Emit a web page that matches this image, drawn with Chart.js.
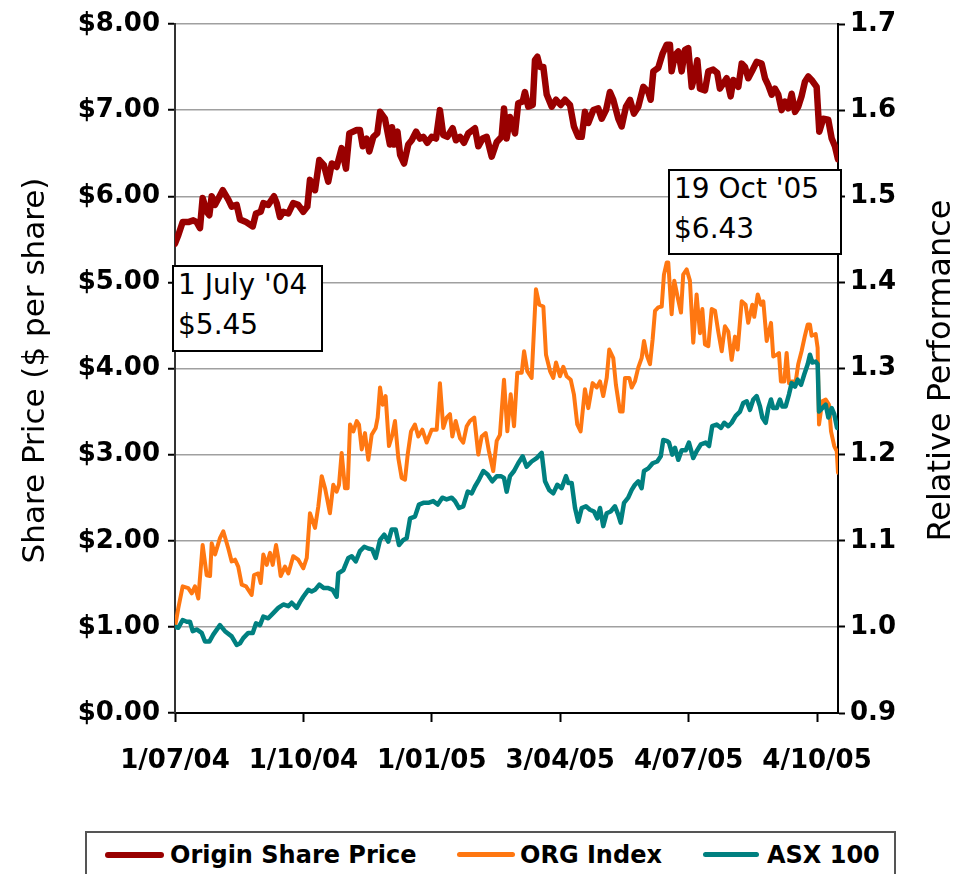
<!DOCTYPE html>
<html>
<head>
<meta charset="utf-8">
<script src="https://cdn.jsdelivr.net/npm/chart.js@4.4.0/dist/chart.umd.min.js"></script>
<style>
  body { margin: 0; background: #fff; }
  #wrap { position: relative; width: 967px; height: 874px; overflow: hidden; font-family: "DejaVu Sans", sans-serif; color: #000; }
  .note { position: absolute; background: #fff; border: 2px solid #000; box-sizing: border-box; font-size: 28px; line-height: 40px; padding-left: 4px; }
  .note div { position: relative; top: -2px; white-space: nowrap; }
  #legend { position: absolute; left: 85px; top: 831px; width: 811px; height: 60px; border: 2px solid #555; box-sizing: border-box; background: #fff; }
  .item { position: absolute; top: 8px; font-weight: bold; font-size: 24px; line-height: 28px; white-space: nowrap; }
  .sw { position: absolute; top: 19px; height: 6px; border-radius: 3px; }
</style>
</head>
<body>
<div id="wrap">
  <canvas id="chart" width="967" height="874"></canvas>
  <div class="note" style="left:172px; top:265px; width:151px; height:87px;"><div>1 July '04</div><div>$5.45</div></div>
  <div class="note" style="left:668px; top:169px; width:174px; height:86px;"><div>19 Oct '05</div><div>$6.43</div></div>
  <div id="legend">
    <span class="sw" style="left:18px; width:59px; background:#990000;"></span>
    <span class="item" style="left:83px;">Origin Share Price</span>
    <span class="sw" style="left:370px; width:58px; height:5px; background:#FF7711;"></span>
    <span class="item" style="left:433px;">ORG Index</span>
    <span class="sw" style="left:616px; width:56px; height:5px; background:#008080;"></span>
    <span class="item" style="left:680px;">ASX 100</span>
  </div>
</div>
<script>
// x values are days counted from 1 July 2004
var xTickDays = [0, 92, 184, 276, 368, 460];
var xTickLabels = ["1/07/04", "1/10/04", "1/01/05", "3/04/05", "4/07/05", "4/10/05"];

// Origin share price, $ per share (left axis)
var priceDays = [
  0, 2.4, 5.5, 9.5, 13.1, 15.5, 17.9, 19.8, 22.7, 24.6,
  26.3, 28.7, 34.2, 38.2, 40.6, 44.2, 46.6, 50.9, 55.7, 58.0,
  61.4, 63.3, 66.8, 70.9, 72.9, 75.2, 77.6, 81.2, 84.7, 88.3,
  91.9, 94.8, 96.7, 100.3, 103.4, 106.7, 109.8, 112.3, 115.8, 119.4,
  122.5, 124.9, 130.2, 132.5, 134.5, 137.3, 139.2, 142.1, 144.9, 146.9,
  150.4, 154.0, 155.5, 157.0, 159.4, 161.3, 164.1, 167.1, 169.6, 172.7,
  175.5, 177.9, 180.7, 183.9, 187.0, 189.8, 192.2, 195.1, 198.9, 201.3,
  204.2, 207.0, 210.1, 214.9, 217.3, 220.4, 223.3, 226.9, 230.5, 234.0,
  235.7, 237.6, 240.0, 243.6, 245.9, 249.1, 250.7, 253.1, 256.3, 257.9,
  259.6, 261.5, 263.9, 266.3, 269.9, 273.0, 276.3, 279.4, 283.0, 285.8,
  288.9, 291.4, 293.7, 296.1, 299.7, 303.2, 305.7, 308.8, 311.6, 314.0,
  317.6, 320.0, 323.1, 326.0, 328.8, 331.9, 335.5, 339.1, 340.8, 342.7,
  346.2, 349.4, 352.3, 354.6, 355.8, 358.2, 360.6, 363.0, 365.4, 367.7,
  370.2, 372.5, 374.2, 376.1, 379.7, 382.1, 385.6, 388.5, 390.4, 392.8,
  395.2, 398.1, 400.0, 403.6, 406.0, 408.4, 410.7, 413.9, 416.7, 420.3,
  422.7, 425.0, 427.5, 429.8, 432.2, 434.6, 437.0, 439.4, 441.8, 444.2,
  446.5, 448.9, 451.3, 453.7, 456.1, 459.7, 461.6, 464.4, 468.0, 470.5,
  472.8, 475
];
var priceValues = [
  5.45, 5.55, 5.70, 5.70, 5.72, 5.70, 5.63, 5.98, 5.82, 5.78,
  6.00, 5.90, 6.07, 5.96, 5.88, 5.90, 5.73, 5.70, 5.65, 5.80,
  5.82, 5.92, 5.90, 6.00, 5.92, 5.76, 5.82, 5.80, 5.92, 5.90,
  5.82, 5.88, 6.19, 6.07, 6.42, 6.36, 6.17, 6.38, 6.34, 6.56,
  6.32, 6.73, 6.77, 6.77, 6.58, 6.67, 6.52, 6.69, 6.73, 6.98,
  6.90, 6.60, 6.80, 6.60, 6.75, 6.48, 6.38, 6.60, 6.65, 6.75,
  6.67, 6.69, 6.62, 6.69, 6.67, 7.00, 6.71, 6.69, 6.79, 6.65,
  6.69, 6.62, 6.73, 6.79, 6.58, 6.67, 6.69, 6.46, 6.63, 6.69,
  7.02, 6.67, 6.92, 6.73, 7.08, 7.10, 7.21, 7.04, 7.06, 7.58,
  7.62, 7.50, 7.50, 7.18, 7.04, 7.12, 7.06, 7.12, 7.06, 6.81,
  6.69, 6.69, 6.98, 6.85, 7.00, 7.02, 6.90, 7.00, 7.21, 7.12,
  6.90, 6.81, 7.04, 7.12, 6.96, 7.04, 7.27, 7.21, 7.12, 7.45,
  7.49, 7.66, 7.76, 7.76, 7.45, 7.64, 7.68, 7.45, 7.70, 7.72,
  7.27, 7.41, 7.58, 7.25, 7.23, 7.45, 7.47, 7.43, 7.25, 7.31,
  7.37, 7.16, 7.35, 7.27, 7.54, 7.50, 7.37, 7.47, 7.56, 7.54,
  7.37, 7.29, 7.18, 7.25, 7.18, 7.00, 7.10, 7.02, 7.19, 6.98,
  7.04, 7.16, 7.33, 7.39, 7.35, 7.27, 6.75, 6.90, 6.89, 6.67,
  6.58, 6.43
];

// ORG index, relative performance (right axis)
var orgDays = [
  0, 2.4, 5.5, 9.5, 12.0, 14.3, 16.7, 19.8, 22.7, 25.1,
  26.3, 28.7, 32.2, 34.6, 38.2, 40.6, 43.0, 45.3, 47.8, 50.9,
  54.9, 56.6, 59.7, 61.4, 63.3, 65.7, 68.1, 70.0, 72.4, 74.0,
  75.7, 78.8, 81.2, 84.7, 88.3, 91.9, 94.4, 96.7, 100.3, 102.7,
  105.1, 107.5, 111.0, 113.4, 115.8, 117.5, 119.4, 121.8, 123.7, 125.4,
  127.8, 130.2, 131.8, 133.8, 136.1, 138.5, 140.9, 143.8, 145.2, 146.9,
  148.8, 150.9, 153.3, 155.7, 157.6, 160.0, 162.4, 164.8, 166.7, 169.1,
  171.9, 174.3, 177.2, 180.3, 183.9, 187.5, 189.8, 192.2, 194.6, 197.0,
  198.7, 201.1, 204.2, 206.5, 209.0, 211.3, 214.4, 217.3, 219.7, 222.6,
  224.9, 228.0, 230.5, 232.8, 235.7, 238.1, 240.5, 242.9, 245.2, 248.4,
  250.1, 252.4, 255.5, 258.6, 261.0, 263.9, 265.8, 268.7, 271.0, 273.0,
  275.8, 278.2, 280.6, 283.5, 285.8, 288.2, 290.6, 293.7, 296.1, 299.2,
  302.1, 304.5, 306.8, 309.3, 311.1, 314.0, 315.9, 318.8, 320.7, 322.4,
  325.5, 327.2, 329.5, 331.9, 334.3, 336.0, 337.9, 340.3, 342.2, 343.9,
  346.2, 348.7, 350.3, 352.3, 353.4, 355.8, 357.7, 360.1, 362.5, 364.1,
  366.6, 368.9, 371.3, 373.7, 376.1, 377.8, 379.7, 382.1, 384.5, 386.9,
  389.2, 391.7, 394.0, 396.4, 398.8, 401.2, 403.1, 406.0, 408.8, 410.7,
  413.6, 415.0, 417.5, 419.8, 421.5, 423.9, 427.0, 428.6, 431.1, 432.7,
  434.1, 436.5, 438.2, 439.9, 441.8, 444.7, 446.5, 448.9, 451.3, 453.3,
  454.9, 456.1, 459.0, 460.4, 461.4, 463.7, 466.2, 468.5, 470.0, 472.3,
  474.1, 475
];
var orgValues = [
  1.000, 1.022, 1.047, 1.045, 1.039, 1.047, 1.033, 1.095, 1.060, 1.059,
  1.097, 1.084, 1.103, 1.111, 1.091, 1.076, 1.078, 1.070, 1.049, 1.047,
  1.037, 1.060, 1.062, 1.051, 1.084, 1.072, 1.086, 1.072, 1.095, 1.080,
  1.059, 1.070, 1.062, 1.082, 1.078, 1.068, 1.080, 1.132, 1.115, 1.140,
  1.175, 1.161, 1.132, 1.165, 1.157, 1.165, 1.202, 1.161, 1.161, 1.235,
  1.227, 1.239, 1.235, 1.206, 1.225, 1.194, 1.223, 1.231, 1.243, 1.278,
  1.258, 1.268, 1.210, 1.223, 1.239, 1.196, 1.173, 1.171, 1.200, 1.227,
  1.235, 1.221, 1.229, 1.214, 1.229, 1.229, 1.283, 1.231, 1.243, 1.247,
  1.221, 1.239, 1.219, 1.214, 1.233, 1.239, 1.243, 1.200, 1.221, 1.225,
  1.204, 1.181, 1.216, 1.223, 1.287, 1.227, 1.270, 1.233, 1.295, 1.295,
  1.320, 1.297, 1.289, 1.392, 1.374, 1.372, 1.316, 1.297, 1.289, 1.307,
  1.291, 1.302, 1.291, 1.287, 1.270, 1.235, 1.227, 1.276, 1.254, 1.283,
  1.278, 1.285, 1.268, 1.289, 1.322, 1.312, 1.281, 1.250, 1.250, 1.289,
  1.289, 1.278, 1.285, 1.301, 1.312, 1.332, 1.316, 1.305, 1.334, 1.367,
  1.371, 1.372, 1.409, 1.423, 1.423, 1.363, 1.402, 1.383, 1.365, 1.409,
  1.415, 1.402, 1.330, 1.386, 1.341, 1.369, 1.328, 1.326, 1.369, 1.367,
  1.343, 1.320, 1.349, 1.343, 1.310, 1.337, 1.322, 1.378, 1.374, 1.353,
  1.374, 1.360, 1.386, 1.374, 1.378, 1.332, 1.353, 1.314, 1.316, 1.318,
  1.285, 1.285, 1.318, 1.283, 1.285, 1.285, 1.305, 1.320, 1.338, 1.351,
  1.351, 1.338, 1.340, 1.324, 1.235, 1.262, 1.264, 1.258, 1.227, 1.210,
  1.204, 1.179
];

// ASX 100, relative performance (right axis)
var asxDays = [
  0, 2.4, 5.5, 8.4, 10.7, 12.7, 15.5, 19.1, 21.5, 24.6,
  27.4, 32.2, 35.8, 40.6, 44.2, 46.6, 48.9, 52.5, 55.7, 58.0,
  60.9, 63.3, 66.8, 70.4, 74.0, 77.6, 81.2, 83.6, 87.2, 89.6,
  91.9, 95.5, 97.9, 100.3, 103.4, 106.7, 109.8, 113.0, 115.8, 117.0,
  120.6, 124.2, 126.6, 129.5, 132.5, 135.6, 138.5, 141.3, 143.8, 146.9,
  149.9, 152.8, 155.2, 158.1, 160.5, 163.6, 166.0, 168.4, 171.9, 174.8,
  177.9, 181.5, 185.0, 188.2, 191.5, 194.6, 198.2, 200.6, 203.5, 206.5,
  209.7, 212.6, 214.9, 217.8, 220.9, 224.0, 227.3, 230.5, 233.5, 235.7,
  237.6, 240.0, 242.9, 245.9, 249.1, 251.9, 255.5, 259.1, 262.7, 265.1,
  268.1, 271.0, 273.9, 277.0, 280.1, 281.8, 284.2, 286.6, 288.9, 291.4,
  294.4, 297.3, 300.2, 302.5, 304.5, 306.8, 309.3, 312.1, 315.2, 317.6,
  319.3, 321.7, 324.7, 327.2, 329.5, 331.9, 334.3, 336.0, 339.1, 342.2,
  345.5, 348.0, 349.8, 352.3, 353.9, 356.3, 358.2, 360.6, 363.0, 365.9,
  368.2, 371.3, 373.7, 376.8, 380.2, 382.6, 384.9, 388.1, 391.2, 393.5,
  396.4, 398.8, 401.7, 404.8, 407.1, 409.6, 411.9, 414.3, 416.7, 419.1,
  420.8, 423.2, 425.1, 427.0, 428.6, 431.1, 433.4, 435.1, 437.5, 439.9,
  441.8, 444.2, 446.1, 448.5, 450.8, 453.3, 454.9, 456.6, 459.0, 460.4,
  461.4, 463.7, 466.2, 468.1, 470.5, 472.3, 474.3
];
var asxValues = [
  1.000, 0.999, 1.008, 1.006, 1.006, 0.995, 0.997, 0.993, 0.983, 0.983,
  0.991, 1.002, 0.995, 0.989, 0.979, 0.981, 0.987, 0.993, 0.993, 1.004,
  1.002, 1.012, 1.010, 1.016, 1.022, 1.026, 1.024, 1.028, 1.022, 1.029,
  1.035, 1.043, 1.041, 1.043, 1.049, 1.045, 1.045, 1.043, 1.035, 1.062,
  1.066, 1.080, 1.082, 1.076, 1.088, 1.093, 1.091, 1.090, 1.080, 1.101,
  1.107, 1.099, 1.113, 1.113, 1.095, 1.101, 1.103, 1.126, 1.128, 1.142,
  1.144, 1.144, 1.146, 1.142, 1.150, 1.148, 1.150, 1.146, 1.138, 1.140,
  1.157, 1.155, 1.163, 1.171, 1.181, 1.177, 1.169, 1.175, 1.175, 1.173,
  1.157, 1.175, 1.181, 1.190, 1.198, 1.186, 1.192, 1.196, 1.202, 1.169,
  1.159, 1.155, 1.165, 1.161, 1.175, 1.167, 1.167, 1.138, 1.122, 1.138,
  1.140, 1.136, 1.134, 1.126, 1.138, 1.117, 1.132, 1.134, 1.140, 1.130,
  1.121, 1.144, 1.150, 1.159, 1.165, 1.169, 1.161, 1.181, 1.184, 1.190,
  1.192, 1.198, 1.217, 1.216, 1.214, 1.200, 1.208, 1.194, 1.205, 1.205,
  1.214, 1.196, 1.204, 1.212, 1.214, 1.210, 1.233, 1.235, 1.231, 1.237,
  1.233, 1.237, 1.245, 1.250, 1.260, 1.262, 1.252, 1.264, 1.268, 1.256,
  1.243, 1.237, 1.254, 1.264, 1.254, 1.254, 1.264, 1.256, 1.256, 1.270,
  1.283, 1.279, 1.287, 1.281, 1.293, 1.305, 1.316, 1.307, 1.308, 1.305,
  1.250, 1.254, 1.258, 1.243, 1.254, 1.247, 1.231
];

var leftTitle = "Share Price ($ per share)";
var rightTitle = "Relative Performance";

function toPoints(days, values) {
  var pts = [];
  for (var i = 0; i < Math.min(days.length, values.length); i++) {
    pts.push({ x: days[i], y: values[i] });
  }
  return pts;
}

var tickFont = { family: "DejaVu Sans", size: 26, weight: "bold" };

// both axis titles read bottom-to-top, so draw them here
var sideTitles = {
  id: "sideTitles",
  afterDraw: function (chart) {
    var ctx = chart.ctx;
    var area = chart.chartArea;
    var midY = (area.top + area.bottom) / 2;
    ctx.save();
    ctx.fillStyle = "#000";
    ctx.textAlign = "center";
    ctx.textBaseline = "middle";
    [[36, leftTitle, 31], [942, rightTitle, 32]].forEach(function (t) {
      ctx.save();
      ctx.font = t[2] + 'px "DejaVu Sans"';
      ctx.translate(t[0], midY + 2);
      ctx.rotate(-Math.PI / 2);
      ctx.fillText(t[1], 0, 0);
      ctx.restore();
    });
    ctx.restore();
  }
};

new Chart(document.getElementById("chart"), {
  type: "line",
  data: {
    datasets: [
      {
        label: "Origin Share Price",
        data: toPoints(priceDays, priceValues),
        yAxisID: "y",
        borderColor: "#990000",
        borderWidth: 6.5,
        order: 0
      },
      {
        label: "ORG Index",
        data: toPoints(orgDays, orgValues),
        yAxisID: "y1",
        borderColor: "#FF7711",
        borderWidth: 4,
        order: 2
      },
      {
        label: "ASX 100",
        data: toPoints(asxDays, asxValues),
        yAxisID: "y1",
        borderColor: "#008080",
        borderWidth: 4.5,
        order: 1
      }
    ]
  },
  options: {
    responsive: false,
    animation: false,
    devicePixelRatio: 1,
    layout: { padding: { top: 24, left: 0, right: 0, bottom: 0 } },
    elements: {
      point: { radius: 0 },
      line: { tension: 0, borderJoinStyle: "round", borderCapStyle: "round" }
    },
    plugins: {
      legend: { display: false },
      tooltip: { enabled: false }
    },
    scales: {
      x: {
        type: "linear",
        min: 0,
        max: 475,
        afterBuildTicks: function (axis) {
          axis.ticks = xTickDays.map(function (d) { return { value: d }; });
        },
        afterFit: function (axis) { axis.height = 161; },
        ticks: {
          autoSkip: false,
          maxRotation: 0,
          padding: 24,
          color: "#000",
          font: tickFont,
          callback: function (v) { return xTickLabels[xTickDays.indexOf(v)]; }
        },
        grid: { drawOnChartArea: false, tickLength: 9, tickColor: "#000", tickWidth: 2 },
        border: { color: "#000", width: 2 }
      },
      y: {
        position: "left",
        min: 0,
        max: 8,
        afterFit: function (axis) { axis.width = 175; },
        ticks: {
          stepSize: 1,
          padding: 8,
          color: "#000",
          font: tickFont,
          callback: function (v) { return "$" + v.toFixed(2); }
        },
        grid: { color: "#a0a0a0", lineWidth: 1.5, tickColor: "#000", tickLength: 7, tickWidth: 2 },
        border: { color: "#333", width: 2 }
      },
      y1: {
        position: "right",
        min: 0.9,
        max: 1.7,
        afterFit: function (axis) { axis.width = 129; },
        ticks: {
          stepSize: 0.1,
          padding: 5,
          color: "#000",
          font: tickFont,
          callback: function (v) { return v.toFixed(1); }
        },
        grid: { drawOnChartArea: false, tickColor: "#000", tickLength: 7, tickWidth: 2 },
        border: { color: "#000", width: 2 }
      }
    }
  },
  plugins: [sideTitles]
});
</script>
</body>
</html>
